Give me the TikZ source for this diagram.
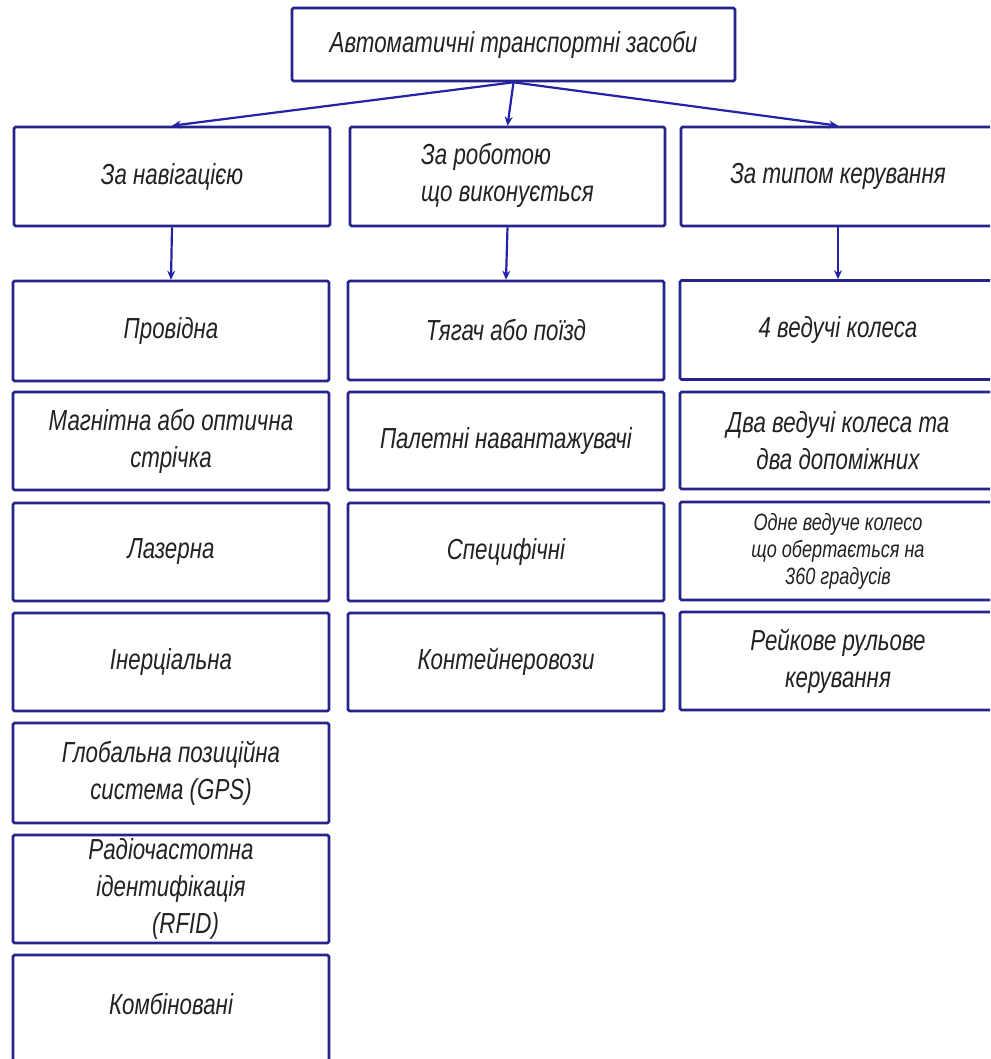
\documentclass[tikz,border=0pt]{standalone}
\usepackage{fontspec}
\setmainfont{Liberation Sans}
\newfontfamily\gost{Liberation Sans}[FakeStretch=0.77]
\usetikzlibrary{arrows.meta}
\definecolor{boxblue}{HTML}{24248C}
\definecolor{arrblue}{HTML}{2323A8}
\definecolor{txt}{HTML}{222222}
\tikzset{
  box/.style={draw=boxblue, line width=2.6pt, rounded corners=1.5pt, align=center,
    text=txt, font=\gost\itshape\fontsize{29}{37}\selectfont, inner sep=2pt},
  small/.style={font=\gost\itshape\fontsize{23.5}{27}\selectfont},
  arr/.style={draw=arrblue, line width=2.2pt, -{Stealth[length=9pt,width=8pt]}},
}
\begin{document}
\begin{tikzpicture}[x=1pt,y=-1pt]
\useasboundingbox (0,0) rectangle (990,1059);
\clip (0,0) rectangle (990,1059);
\fill[white] (0,0) rectangle (990,1059);
% top
\node[box, minimum width=443pt, minimum height=73pt] (top) at (513.5,44.5) {Автоматичні транспортні засоби};
% level 2
\node[box, minimum width=316pt, minimum height=99pt] (nav) at (172,176.5) {За навігацією};
\node[box, minimum width=315pt, minimum height=99pt, align=left, text depth=8pt] (work) at (507.5,176.5) {За роботою\\що виконується};
\node[box, minimum width=314pt, minimum height=99pt] (ctrl) at (838,176.5) {За типом керування};
% arrows top
\draw[arr] (top.south) -- (nav.north);
\draw[arr] (top.south) -- (work.north);
\draw[arr] (top.south) -- (ctrl.north);
% left column
\tikzset{lc/.style={box, minimum width=316pt}}
\node[lc, minimum height=100pt] (l1) at (171,331) {Провідна};
\node[lc, minimum height=98pt] (l2) at (171,441) {Магнітна або оптична\\стрічка};
\node[lc, minimum height=98pt] (l3) at (171,552) {Лазерна};
\node[lc, minimum height=98pt] (l4) at (171,662) {Інерціальна};
\node[lc, minimum height=100pt] (l5) at (171,773) {Глобальна позиційна\\система (GPS)};
\node[lc, minimum height=108pt] (l6) at (171,889) {Радіочастотна\\ідентифікація\\\hspace*{1em}(RFID)};
\node[lc, minimum height=120pt, text depth=22pt] (l7) at (171,1015) {Комбіновані};
% middle column
\tikzset{mc/.style={box, minimum width=316pt}}
\node[mc, minimum height=99pt] (m1) at (506,330.5) {Тягач або поїзд};
\node[mc, minimum height=98pt] (m2) at (506,441) {Палетні навантажувачі};
\node[mc, minimum height=98pt] (m3) at (506,552) {Специфічні};
\node[mc, minimum height=98pt] (m4) at (506,662) {Контейнеровози};
% right column
\tikzset{rc/.style={box, minimum width=316pt}}
\node[rc, minimum height=99pt] (r1) at (838,330) {4 ведучі колеса};
\node[rc, minimum height=97pt] (r2) at (838,440.5) {Два ведучі колеса та\\два допоміжних};
\node[rc, minimum height=98pt, small] (r3) at (838,551) {Одне ведуче колесо\\що обертається на\\360 градусів};
\node[rc, minimum height=98pt] (r4) at (838,661) {Рейкове рульове\\керування};
% down arrows
\draw[arr] (nav.south) -- (l1.north);
\draw[arr] (work.south) -- (m1.north);
\draw[arr] (ctrl.south) -- (r1.north);
\end{tikzpicture}
\end{document}
